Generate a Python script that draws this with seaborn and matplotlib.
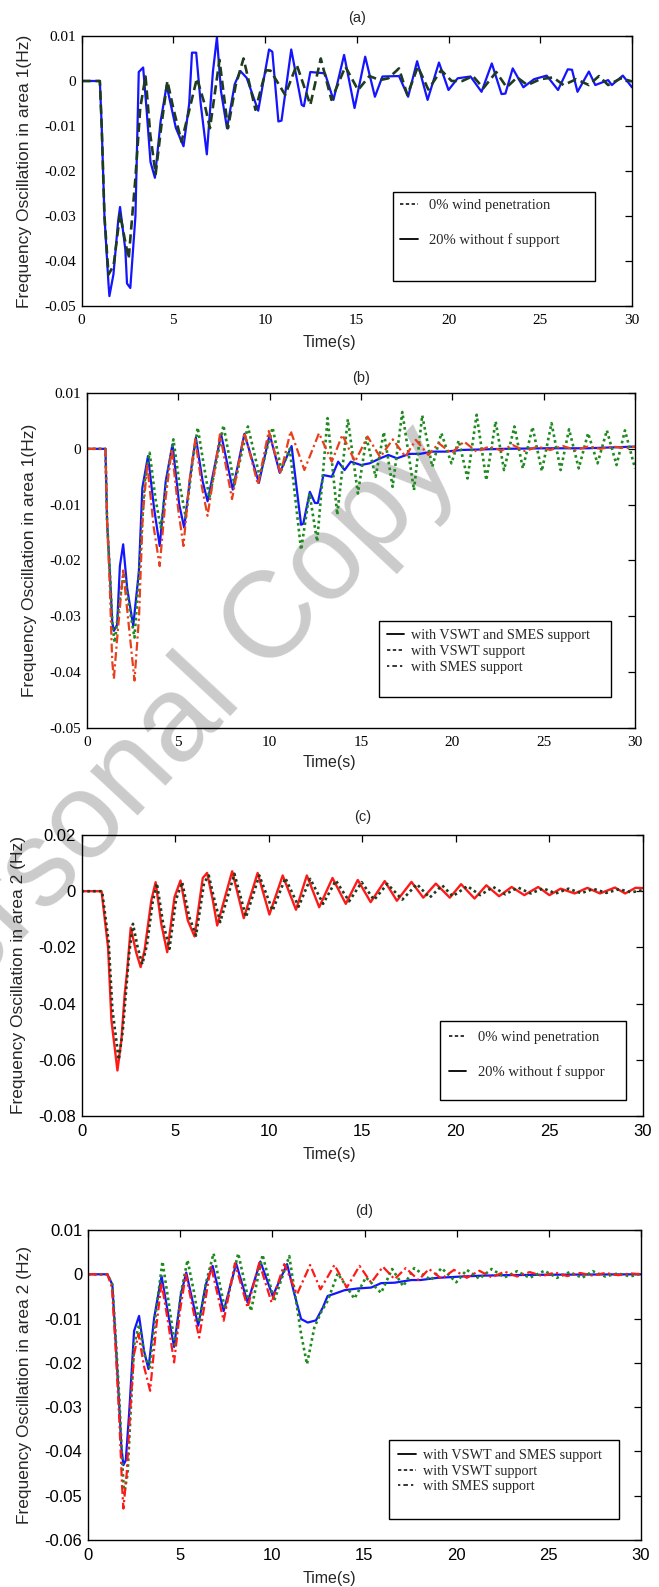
import numpy as np
import pandas as pd
import matplotlib
matplotlib.use("Agg")
import matplotlib.pyplot as plt
from matplotlib.lines import Line2D
from matplotlib.patches import Rectangle
import seaborn as sns

# ---------------- data: (time s, frequency Hz) ----------------
# (a) area 1, wind penetration
a_wind0 = [(0, 0), (1.0, 0), (1.1, -0.01), (1.25, -0.03), (1.47, -0.043), (1.75, -0.041), (2.1, -0.0295),
           (2.35, -0.035), (2.57, -0.0395), (2.94, -0.0215), (3.2, -0.006), (3.49, 0.001), (3.75, -0.012),
           (4.04, -0.0207), (4.35, -0.01), (4.68, 0.0), (5.0, -0.006), (5.45, -0.0135), (5.9, -0.006),
           (6.29, 0.0006), (6.7, -0.005), (7.0, -0.0105), (7.52, 0.0047), (7.98, -0.0105), (8.4, -0.001),
           (8.83, 0.005), (9.48, -0.0064), (10.05, 0.0024), (10.3, 0.0023), (11.1, -0.0031), (11.73, 0.0036),
           (12.47, -0.0053), (13.04, 0.005), (13.62, -0.0042), (14.38, 0.0032), (15.07, -0.002), (15.69, 0.0011),
           (16.26, 0.0002), (16.72, 0.0006), (17.3, 0.0028), (17.76, -0.0031), (18.33, 0.0032), (18.9, -0.0019),
           (19.6, 0.0024), (20.17, 0.0), (20.75, 0.0), (21.33, 0.0011), (21.9, -0.0016), (22.6, 0.002),
           (23.17, -0.0014), (23.74, 0.0008), (24.3, -0.0009), (25.0, 0.0004), (25.7, 0.0008), (26.27, -0.0009),
           (26.96, 0.0004), (27.65, -0.0009), (28.2, 0.0011), (28.7, -0.0009), (29.4, 0.0006), (30, -0.0001)]
a_wind20 = [(0, 0), (1.0, 0), (1.1, -0.01), (1.25, -0.03), (1.47, -0.045), (1.52, -0.0478), (1.74, -0.043),
            (2.0, -0.031), (2.1, -0.028), (2.39, -0.0375), (2.48, -0.045), (2.66, -0.046), (2.94, -0.03),
            (3.12, 0.002), (3.36, 0.003), (3.54, -0.006), (3.76, -0.018), (4.0, -0.0215), (4.31, -0.009),
            (4.64, -0.001), (5.14, -0.0104), (5.56, -0.0145), (5.87, -0.005), (6.02, 0.0063), (6.25, 0.0063),
            (6.5, -0.0052), (6.83, -0.0163), (7.16, 0.002), (7.38, 0.0097), (7.6, -0.0022), (7.93, -0.0105),
            (8.35, -0.0007), (8.66, 0.0022), (9.0, 0.0007), (9.63, -0.0066), (10.22, 0.007), (10.4, 0.0065),
            (10.73, -0.009), (10.9, -0.0088), (11.43, 0.007), (12.0, -0.0053), (12.12, -0.0056), (12.47, 0.002),
            (13.27, 0.0017), (13.73, -0.0042), (14.31, 0.0058), (14.88, -0.006), (15.46, 0.0054), (15.99, -0.0035),
            (16.4, 0.001), (17.3, 0.0011), (17.8, -0.0035), (18.29, 0.0044), (18.86, -0.0042), (19.48, 0.0041),
            (20.0, -0.002), (20.5, 0.0006), (21.2, 0.001), (21.8, -0.0024), (22.36, 0.0039), (22.89, -0.0029),
            (23.1, -0.0028), (23.5, 0.0028), (24.08, -0.0014), (24.66, 0.0004), (25.35, 0.0012), (25.97, -0.002),
            (26.5, 0.0026), (26.73, 0.0025), (27.03, -0.0024), (27.65, 0.0021), (28.0, -0.0009), (28.7, 0.0002),
            (28.9, -0.0009), (29.5, 0.0012), (30, -0.0014)]

# (b) area 1, support schemes
b_both = [(0, 0), (1.01, 0), (1.1, -0.013), (1.25, -0.022), (1.38, -0.031), (1.47, -0.0326), (1.65, -0.0315),
          (1.8, -0.021), (1.98, -0.0171), (2.2, -0.025), (2.53, -0.0317), (2.84, -0.022), (3.03, -0.007),
          (3.34, -0.0013), (3.67, -0.0106), (3.98, -0.0174), (4.31, -0.0058), (4.68, 0.0008), (5.05, -0.01),
          (5.32, -0.0141), (5.69, -0.004), (5.96, 0.002), (6.33, -0.0058), (6.6, -0.0094), (7.34, 0.0026),
          (7.98, -0.0073), (8.62, 0.0027), (9.41, -0.0061), (10.0, 0.0026), (10.55, -0.0043), (11.2, 0.0005),
          (11.72, -0.0136), (11.84, -0.0134), (12.2, -0.0077), (12.48, -0.0097), (12.64, -0.0097),
          (12.94, -0.0047), (13.4, -0.005), (13.75, -0.0023), (14.1, -0.0038), (14.44, -0.0023), (15.0, -0.0029),
          (15.47, -0.0026), (16.05, -0.0017), (16.5, -0.0011), (16.97, -0.0017), (17.66, -0.0009),
          (18.23, -0.0009), (18.92, -0.0005), (19.6, -0.0005), (20.53, -0.0002), (21.68, -0.0001), (22.83, 0.0),
          (25.1, 0.0001), (27.4, 0.0001), (30, 0.0004)]
b_vswt = [(0, 0), (1.01, 0), (1.1, -0.013), (1.25, -0.022), (1.4, -0.032), (1.52, -0.0347), (1.75, -0.028),
          (2.02, -0.0222), (2.3, -0.028), (2.6, -0.0338), (2.9, -0.02), (3.15, -0.006), (3.43, -0.0007),
          (3.75, -0.009), (4.04, -0.0141), (4.4, -0.005), (4.73, 0.0017), (5.05, -0.006), (5.41, -0.0123),
          (5.75, -0.003), (6.06, 0.0038), (6.4, -0.003), (6.7, -0.0088), (7.1, -0.002), (7.47, 0.0042),
          (8.07, -0.0064), (8.81, 0.004), (9.45, -0.0049), (10.16, 0.0038), (10.64, -0.0038), (11.1, 0.0),
          (11.72, -0.0181), (12.18, -0.008), (12.6, -0.0166), (13.17, 0.0055), (13.7, -0.0118), (14.28, 0.0053),
          (14.83, -0.008), (15.3, 0.002), (15.8, -0.005), (16.25, 0.003), (16.73, -0.0068), (17.26, 0.0066),
          (17.9, -0.0074), (18.35, 0.006), (18.9, -0.0032), (19.4, 0.0028), (19.95, -0.0026), (20.35, 0.0015),
          (20.83, -0.0053), (21.33, 0.0061), (21.86, -0.0056), (22.37, 0.0049), (22.83, -0.0038), (23.4, 0.004),
          (23.86, -0.0035), (24.39, 0.0039), (24.9, -0.004), (25.43, 0.0046), (25.93, -0.0038), (26.39, 0.0035),
          (26.92, -0.0035), (27.43, 0.0028), (27.95, -0.0026), (28.46, 0.0033), (28.99, -0.0029),
          (29.45, 0.0033), (30, -0.0035)]
b_smes = [(0, 0), (1.01, 0), (1.1, -0.013), (1.25, -0.025), (1.38, -0.038), (1.47, -0.0412), (1.65, -0.034),
          (1.98, -0.0218), (2.3, -0.032), (2.6, -0.0415), (2.85, -0.03), (3.05, -0.012), (3.3, -0.0028),
          (3.65, -0.014), (3.98, -0.021), (4.3, -0.009), (4.64, 0.0), (5.0, -0.011), (5.28, -0.0174),
          (5.6, -0.006), (5.93, 0.0017), (6.3, -0.007), (6.6, -0.012), (7.28, 0.0026), (7.94, -0.009),
          (8.62, 0.0029), (9.36, -0.0064), (9.95, 0.0032), (10.6, -0.0044), (11.15, 0.0032), (11.9, -0.0038),
          (12.7, 0.0028), (13.4, -0.0023), (13.98, 0.0025), (14.67, -0.0023), (15.36, 0.0022), (16.05, -0.0015),
          (16.74, 0.0017), (17.43, -0.0014), (18.0, 0.0016), (18.69, -0.0011), (19.26, 0.001), (19.95, -0.0008),
          (20.64, 0.0013), (21.33, -0.0005), (22.02, 0.0004), (22.7, -0.0003), (23.29, 0.0007), (23.98, -0.0004),
          (24.67, 0.0004), (25.36, -0.0002), (26.05, 0.0005), (26.74, -0.0002), (27.43, 0.0004), (28.1, 0.0),
          (28.8, 0.0004), (29.5, 0.0001), (30, 0.0004)]

# (c) area 2, wind penetration
c_wind0 = [(0, 0), (1.1, 0), (1.45, -0.018), (1.65, -0.042), (1.99, -0.060), (2.2, -0.05), (2.4, -0.034),
           (2.55, -0.022), (2.75, -0.0116), (3.0, -0.02), (3.25, -0.026), (3.5, -0.019), (3.8, -0.004),
           (4.03, 0.0028), (4.35, -0.011), (4.7, -0.0205), (5.05, -0.003), (5.38, 0.0032), (5.75, -0.009),
           (6.12, -0.0158), (6.55, 0.003), (6.8, 0.0056), (7.1, -0.003), (7.41, -0.011), (8.17, 0.0062),
           (8.79, -0.0092), (9.5, 0.0056), (10.21, -0.0069), (10.89, 0.0047), (11.6, -0.0055), (12.22, 0.0044),
           (12.91, -0.0045), (13.59, 0.0038), (14.3, -0.0036), (14.97, 0.0032), (15.63, -0.0031), (16.34, 0.0026),
           (17.14, -0.003), (17.92, 0.0025), (18.6, -0.0023), (19.27, 0.0021), (19.83, -0.0018), (20.62, 0.0018),
           (21.3, -0.0014), (22.0, 0.0015), (22.64, -0.0011), (23.32, 0.0013), (24.0, -0.0008), (24.67, 0.001),
           (25.34, -0.0008), (26.02, 0.0009), (26.69, -0.0007), (27.37, 0.0008), (28.04, -0.0006),
           (28.72, 0.0007), (29.39, -0.0004), (30, 0.0004)]
c_wind20 = [(0, 0), (1.07, 0), (1.42, -0.02), (1.6, -0.046), (1.92, -0.0638), (2.13, -0.053), (2.31, -0.0365),
            (2.43, -0.029), (2.63, -0.013), (2.93, -0.022), (3.16, -0.027), (3.37, -0.021), (3.73, -0.0033),
            (3.96, 0.0032), (4.26, -0.0116), (4.58, -0.0217), (4.97, -0.0021), (5.29, 0.0038), (5.68, -0.0104),
            (6.04, -0.0161), (6.48, 0.0047), (6.71, 0.0065), (7.02, -0.0033), (7.25, -0.0122), (8.05, 0.0071),
            (8.67, -0.0096), (9.41, 0.0065), (10.04, -0.0083), (10.75, 0.0056), (11.46, -0.0066), (12.04, 0.0056),
            (12.7, -0.0057), (13.41, 0.0047), (14.12, -0.0045), (14.76, 0.004), (15.45, -0.0039), (16.2, 0.0036),
            (16.85, -0.0034), (17.63, 0.0033), (18.26, -0.0023), (18.93, 0.0027), (19.68, -0.0023),
            (20.28, 0.0025), (21.0, -0.0026), (21.63, 0.0021), (22.31, -0.0018), (22.98, 0.0015), (23.66, -0.0014),
            (24.4, 0.0015), (25.0, -0.0014), (25.6, 0.0009), (26.35, -0.0008), (27.03, 0.0012), (27.7, -0.0008),
            (28.5, 0.0013), (29.05, -0.0008), (29.6, 0.0012), (30, 0.0011)]

# (d) area 2, support schemes
d_both = [(0, 0), (1.05, 0), (1.32, -0.0023), (1.5, -0.015), (1.68, -0.0285), (1.81, -0.039), (1.92, -0.0431),
          (2.05, -0.042), (2.23, -0.0315), (2.36, -0.0225), (2.5, -0.0128), (2.77, -0.0094), (3.04, -0.0173),
          (3.28, -0.0214), (3.59, -0.0098), (3.99, -0.0004), (4.35, -0.009), (4.67, -0.0164), (5.04, -0.0045),
          (5.33, 0.0004), (5.67, -0.006), (5.98, -0.0116), (6.39, -0.0023), (6.76, 0.0019), (7.36, -0.0083),
          (8.04, 0.0024), (8.66, -0.0064), (9.35, 0.0029), (10.02, -0.0049), (10.8, 0.0023), (11.2, -0.0045),
          (11.56, -0.0101), (11.92, -0.0109), (12.37, -0.0104), (12.74, -0.0075), (13.0, -0.0049),
          (13.37, -0.0044), (13.91, -0.0036), (14.64, -0.0032), (15.36, -0.003), (15.9, -0.002), (16.63, -0.0019),
          (17.54, -0.0013), (18.04, -0.0013), (18.95, -0.0008), (20.3, -0.0005), (21.46, -0.0003),
          (22.6, -0.0002), (24.9, -0.0001), (30, 0.0)]
d_vswt = [(0, 0), (1.05, 0), (1.32, -0.0023), (1.5, -0.014), (1.7, -0.028), (1.85, -0.042), (1.96, -0.0495),
          (2.15, -0.045), (2.35, -0.028), (2.5, -0.016), (2.77, -0.0113), (3.05, -0.018), (3.35, -0.021),
          (3.7, -0.008), (4.04, 0.0029), (4.4, -0.007), (4.73, -0.0165), (5.05, -0.004), (5.4, 0.0032),
          (5.75, -0.004), (6.03, -0.0109), (6.4, -0.002), (6.81, 0.0047), (7.43, -0.0079), (8.15, 0.0047),
          (8.84, -0.0083), (9.47, 0.0044), (10.1, -0.006), (10.92, 0.0041), (11.56, -0.0135), (11.88, -0.0203),
          (12.28, -0.012), (12.64, -0.0086), (13.0, -0.006), (13.55, 0.0002), (14.45, -0.0055), (15.08, -0.0007),
          (15.9, -0.0042), (16.5, 0.0012), (17.1, -0.0027), (17.7, 0.0014), (18.6, -0.0013), (19.18, 0.0014),
          (19.98, -0.0018), (20.55, 0.001), (21.23, -0.001), (21.9, 0.0012), (22.6, -0.0007), (23.28, 0.0007),
          (23.96, -0.0008), (24.76, 0.0008), (25.44, -0.0008), (26.13, 0.0005), (26.81, -0.0008),
          (27.38, 0.0007), (28.06, -0.0005), (28.75, 0.0002), (29.43, -0.0005), (30, 0.0002)]
d_smes = [(0, 0), (1.05, 0), (1.3, -0.003), (1.5, -0.017), (1.7, -0.033), (1.85, -0.048), (1.92, -0.0529),
          (2.1, -0.045), (2.3, -0.03), (2.5, -0.018), (2.74, -0.0135), (3.05, -0.021), (3.37, -0.0263),
          (3.7, -0.012), (3.99, -0.0019), (4.35, -0.011), (4.67, -0.0199), (5.0, -0.008), (5.31, 0.0),
          (5.7, -0.008), (6.03, -0.0143), (6.67, 0.0019), (7.36, -0.0105), (7.97, 0.0025), (8.66, -0.0075),
          (9.29, 0.0026), (9.96, -0.0064), (10.65, 0.0023), (11.34, -0.0045), (12.05, 0.0021), (12.61, -0.0034),
          (13.37, 0.0021), (14.04, -0.003), (14.73, 0.0019), (15.36, -0.0019), (16.0, 0.0017), (16.63, -0.0011),
          (17.24, 0.0014), (17.93, -0.0013), (18.5, 0.0012), (19.18, -0.001), (19.86, 0.001), (20.55, -0.0008),
          (21.23, 0.0008), (21.9, -0.0007), (22.6, 0.0006), (23.28, -0.0005), (23.96, 0.0005), (24.65, -0.0004),
          (25.33, 0.0004), (26.0, -0.0004), (26.7, 0.0003), (27.38, -0.0003), (28.06, 0.0003), (28.75, -0.0002),
          (29.43, 0.0002), (30, 0.0)]

x_ticks = [0, 5, 10, 15, 20, 25, 30]
y_ticks_area1 = [-0.05, -0.04, -0.03, -0.02, -0.01, 0, 0.01]
y_labels_area1 = ["-0.05", "-0.04", "-0.03", "-0.02", "-0.01", "0", "0.01"]
y_ticks_c = [-0.08, -0.06, -0.04, -0.02, 0, 0.02]
y_labels_c = ["-0.08", "-0.06", "-0.04", "-0.02", "0", "0.02"]
y_ticks_d = [-0.06, -0.05, -0.04, -0.03, -0.02, -0.01, 0, 0.01]
y_labels_d = ["-0.06", "-0.05", "-0.04", "-0.03", "-0.02", "-0.01", "0", "0.01"]

legend_wind = ["0% wind penetration", "20% without f support"]
legend_wind_c = ["0% wind penetration", "20% without f suppor"]
legend_support = ["with VSWT and SMES support", "with VSWT support", "with SMES support"]

# ---------------- styling ----------------
sns.set_theme(style="white")
plt.rcParams["font.family"] = ["Liberation Sans", "DejaVu Sans"]

SERIF = "Liberation Serif"
SANS = "Liberation Sans"
BLUE = "#1414ff"
DKGREEN = "#1e3c1e"
GREEN = "#1f8a1f"
RED_B = "#e8401c"
RED = "#ff1a1a"

W, H = 659, 1587
fig = plt.figure(figsize=(W / 100, H / 100), dpi=100)


def px_axes(x0, x1, y0, y1):
    # pixel box -> figure fraction
    ax = fig.add_axes([x0 / W, 1 - y1 / H, (x1 - x0) / W, (y1 - y0) / H])
    ax.set_facecolor("none")
    return ax


def draw(ax, pts, **kw):
    df = pd.DataFrame(pts, columns=["t", "f"])
    sns.lineplot(data=df, x="t", y="f", ax=ax, sort=False, **kw)


def style(ax, yticks, ylabels, tick_family, tick_size, ylabel, title, title_y, xlabel_y, ylabel_x):
    ax.set_xlim(0, 30)
    ax.set_ylim(yticks[0], yticks[-1])
    ax.set_xticks(x_ticks)
    ax.set_xticklabels([str(v) for v in x_ticks])
    ax.set_yticks(yticks)
    ax.set_yticklabels(ylabels)
    ax.tick_params(direction="in", top=True, right=True, length=5, width=0.9,
                   colors="black", pad=4)
    ax.tick_params(axis="x", pad=6)
    for lab in ax.get_xticklabels() + ax.get_yticklabels():
        lab.set_fontfamily(tick_family)
        lab.set_fontsize(tick_size)
    for s in ax.spines.values():
        s.set_visible(True)
        s.set_color("black")
        s.set_linewidth(1.0)
    ax.set_xlabel("Time(s)", fontsize=11.5, family=SANS)
    ax.set_ylabel(ylabel, fontsize=12.5, family=SANS)
    ax.xaxis.set_label_coords(0.5, 1 - xlabel_y / H, transform=fig.transFigure)
    ax.xaxis.label.set_va("center")
    ax.yaxis.label.set_va("center")
    bb = ax.get_position()
    ax.yaxis.set_label_coords(ylabel_x / W, (bb.y0 + bb.y1) / 2, transform=fig.transFigure)
    fig.text((bb.x0 + bb.x1) / 2, 1 - title_y / H, title, ha="center", va="center",
             fontsize=10.5, family=SANS)


def add_legend(ax, handles, labels, box, anchor, spacing, hlen, tpad, size):
    x0, y0, x1, y1 = box
    ax.add_patch(Rectangle((x0, y0), x1 - x0, y1 - y0, transform=ax.transAxes,
                           facecolor="white", edgecolor="black", linewidth=1.0, zorder=5))
    leg = ax.legend(handles, labels, loc="upper left", bbox_to_anchor=anchor, frameon=False,
                    borderpad=0, borderaxespad=0, labelspacing=spacing, handlelength=hlen,
                    handletextpad=tpad, prop={"family": SERIF, "size": size})
    leg.set_zorder(6)


h_dash = Line2D([], [], color="black", lw=1.1, linestyle=(0, (2.2, 1.6)))
h_solid = Line2D([], [], color="black", lw=1.3, linestyle="-")
h_dashdot = Line2D([], [], color="black", lw=1.1, linestyle=(0, (1.5, 2.0, 3.0, 2.0)))

# ---------------- (a) ----------------
ax_a = px_axes(81.5, 632, 36, 306)
draw(ax_a, a_wind20, color=BLUE, linewidth=1.6)
draw(ax_a, a_wind0, color=DKGREEN, linewidth=1.9, linestyle=(0, (3.5, 1.8)))
style(ax_a, y_ticks_area1, y_labels_area1, SERIF, 11, "Frequency Oscillation in area 1(Hz)",
      "(a)", 18, 342, 25)
add_legend(ax_a, [h_dash, h_solid], legend_wind, (0.565, 0.093, 0.933, 0.422),
           (0.579, 0.398), 1.5, 1.2, 0.75, 10.5)

# ---------------- (b) ----------------
ax_b = px_axes(87, 635, 393, 728)
draw(ax_b, b_both, color=BLUE, linewidth=1.6)
draw(ax_b, b_vswt, color=GREEN, linewidth=1.9, linestyle=(0, (1, 1.2)))
draw(ax_b, b_smes, color=RED_B, linewidth=1.6, linestyle=(0, (4, 1.5, 1, 1.5)))
style(ax_b, y_ticks_area1, y_labels_area1, SERIF, 11, "Frequency Oscillation in area 1(Hz)",
      "(b)", 378, 763, 30)
add_legend(ax_b, [h_solid, h_dash, h_dashdot], legend_support, (0.533, 0.0925, 0.957, 0.319),
           (0.547, 0.2955), 0.2, 1.25, 0.45, 10.2)

# ---------------- (c) ----------------
ax_c = px_axes(81.5, 643, 835, 1116)
draw(ax_c, c_wind20, color=RED, linewidth=1.7)
draw(ax_c, c_wind0, color=DKGREEN, linewidth=1.9, linestyle=(0, (1, 1.2)))
style(ax_c, y_ticks_c, y_labels_c, SANS, 12, "Frequency Oscillation in area 2 (Hz)",
      "(c)", 817, 1155, 19)
add_legend(ax_c, [h_dash, h_solid], legend_wind_c, (0.6385, 0.057, 0.969, 0.339),
           (0.654, 0.304), 1.45, 1.2, 0.8, 10.5)

# ---------------- (d) ----------------
ax_d = px_axes(88, 641, 1230, 1540)
draw(ax_d, d_both, color=BLUE, linewidth=1.6)
draw(ax_d, d_vswt, color=GREEN, linewidth=1.9, linestyle=(0, (1, 1.2)))
draw(ax_d, d_smes, color=RED, linewidth=1.6, linestyle=(0, (4, 1.5, 1, 1.5)))
style(ax_d, y_ticks_d, y_labels_d, SANS, 12, "Frequency Oscillation in area 2 (Hz)",
      "(d)", 1211, 1578, 25)
add_legend(ax_d, [h_solid, h_dash, h_dashdot], legend_support, (0.544, 0.0677, 0.960, 0.3226),
           (0.5606, 0.2945), 0.2, 1.25, 0.5, 10.2)

# watermark stamped across the page, behind the curves
fig.text(165 / W, 1 - 740 / H, "Personal Copy", rotation=47, fontsize=88, color="#cbcbcb",
         ha="center", va="center", family=SANS, zorder=-1)

fig.savefig("out.png", dpi=100, facecolor="white")
